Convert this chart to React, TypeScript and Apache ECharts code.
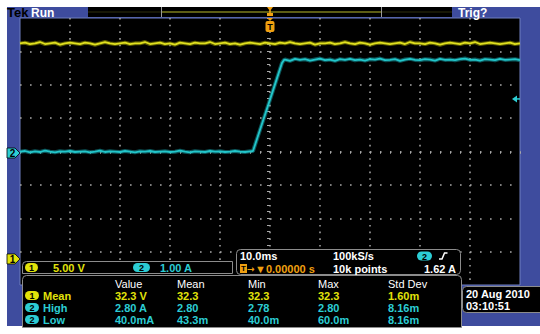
import React, { useEffect, useRef } from 'react';
import * as echarts from 'echarts';

// ---- acquisition settings ----
const timeMin = -50; // ms (10 ms/div, 10 div, trigger centred)
const timeMax = 50;
const timePerDiv = 10;
const sampleStepMs = 1;
const divMin = -4;
const divMax = 4;

const ch1VoltsPerDiv = 5.0;
const ch1GroundDiv = -3.22;
const ch2AmpsPerDiv = 1.0;
const ch2GroundDiv = -0.045;
const trigLevelAmps = 1.62;

// ---- channel 1 (yellow), volts, one sample per ms from -50 ms ----
const ch1Volts = [
  32.3, 32.4, 32.2, 32.3, 32.5, 32.2, 32.3, 32.4, 32.1, 32.3,
  32.4, 32.3, 32.2, 32.4, 32.3, 32.1, 32.3, 32.5, 32.3, 32.2,
  32.3, 32.4, 32.2, 32.3, 32.3, 32.5, 32.2, 32.3, 32.4, 32.2,
  32.3, 32.1, 32.4, 32.3, 32.2, 32.4, 32.3, 32.3, 32.5, 32.2,
  32.3, 32.4, 32.2, 32.3, 32.1, 32.3, 32.4, 32.3, 32.2, 32.4,
  32.3, 32.2, 32.4, 32.3, 32.5, 32.3, 32.2, 32.3, 32.4, 32.1,
  32.3, 32.3, 32.4, 32.2, 32.3, 32.5, 32.3, 32.2, 32.4, 32.3,
  32.1, 32.3, 32.4, 32.3, 32.2, 32.3, 32.4, 32.2, 32.5, 32.3,
  32.3, 32.2, 32.4, 32.3, 32.1, 32.3, 32.4, 32.3, 32.2, 32.4,
  32.3, 32.5, 32.2, 32.3, 32.4, 32.3, 32.2, 32.3, 32.4, 32.2,
  32.3,
];

// ---- channel 2 (cyan), amps ----
const ch2LowStartMs = -50;
const ch2LowAmps = [
  0.04, 0.06, 0.02, 0.05, 0.03, 0.07, 0.04, 0.02, 0.05, 0.04,
  0.06, 0.03, 0.04, 0.05, 0.02, 0.04, 0.07, 0.03, 0.05, 0.04,
  0.03, 0.06, 0.04, 0.02, 0.05, 0.04, 0.06, 0.03, 0.04, 0.05,
  0.03, 0.04, 0.07, 0.04, 0.02, 0.05, 0.04, 0.03, 0.06, 0.04,
  0.05, 0.03, 0.04, 0.06, 0.04, 0.03, 0.05,
];
const ch2RiseTimes = [-3.4, -3.0, 0.0, 2.4, 2.8];
const ch2RiseAmps = [0.06, 0.24, 1.6, 2.7, 2.79];
const ch2HighStartMs = 3;
const ch2HighAmps = [
  2.80, 2.76, 2.82, 2.79, 2.81, 2.77, 2.80, 2.83, 2.78, 2.80,
  2.76, 2.81, 2.79, 2.82, 2.78, 2.80, 2.77, 2.81, 2.80, 2.83,
  2.78, 2.79, 2.81, 2.76, 2.80, 2.82, 2.79, 2.78, 2.81, 2.80,
  2.77, 2.82, 2.79, 2.80, 2.78, 2.81, 2.83, 2.79, 2.80, 2.77,
  2.81, 2.80, 2.78, 2.82, 2.79, 2.80, 2.81, 2.78,
];

// ---- readout texts ----
const ch1ScaleLabel = '5.00 V';
const ch2ScaleLabel = '1.00 A';
const timebaseLabel = '10.0ms';
const sampleRateLabel = '100kS/s';
const triggerArrow = '→';
const triggerPosLabel = '▼0.00000 s';
const recordLabel = '10k points';
const trigLevelLabel = '1.62 A';
const measHeaders = ['Value', 'Mean', 'Min', 'Max', 'Std Dev'];
const measNames = ['Mean', 'High', 'Low'];
const measChannels = ['1', '2', '2'];
const measRows = [
  ['32.3 V', '32.3', '32.3', '32.3', '1.60m'],
  ['2.80 A', '2.80', '2.78', '2.80', '8.16m'],
  ['40.0mA', '43.3m', '40.0m', '60.0m', '8.16m'],
];
const dateLabel = '20 Aug 2010';
const timeLabel = '03:10:51';

const BLUE = '#3e4c9e';
const GRAT = '#a8a8a8';
const YEL = '#e2e20a';
const YEL_TRACE = '#e0e020';
const CYAN = '#2ccdd4';
const CYAN_TRACE = '#22c6ca';
const ORANGE = '#f0a010';
const FONT = '"Liberation Sans", Arial, sans-serif';
const DJV = '"DejaVu Sans", sans-serif';

function txt(x: number, y: number, text: string, fill: string, align = 'left', size = 11, weight = 'bold', family = FONT) {
  return {
    type: 'text', z: 120,
    style: { x, y, text, fill, font: `${weight} ${size}px ${family}`, align, verticalAlign: 'middle' },
  };
}

function pill(x: number, y: number, w: number, h: number, color: string, label: string) {
  return [
    { type: 'rect', z: 115, shape: { x, y, width: w, height: h, r: h / 2 }, style: { fill: color } },
    {
      type: 'text', z: 116,
      style: { x: x + w / 2, y: y + h / 2 + 0.5, text: label, fill: '#000', font: `bold 9px ${FONT}`, align: 'center', verticalAlign: 'middle' },
    },
  ];
}

function box(x: number, y: number, w: number, h: number, r: any) {
  return { type: 'rect', z: 100, shape: { x, y, width: w, height: h, r }, style: { fill: '#000', stroke: '#8c8c8c', lineWidth: 1 } };
}

function groundMarker(yc: number, color: string, label: string) {
  return [
    {
      type: 'polygon', z: 115,
      shape: { points: [[7, yc - 5], [15, yc - 5], [20, yc], [15, yc + 5], [7, yc + 5]] },
      style: { fill: color, stroke: '#000', lineWidth: 0.8 },
    },
    { type: 'text', z: 116, style: { x: 12.5, y: yc + 0.5, text: label, fill: '#000', font: `bold 10px ${FONT}`, align: 'center', verticalAlign: 'middle' } },
  ];
}

export default function App() {
  const ref = useRef<HTMLDivElement>(null);

  useEffect(() => {
    if (!ref.current) return;
    const chart = echarts.init(ref.current, undefined, { renderer: 'svg' });

    const ch1Data = ch1Volts.map((v, i) => [timeMin + i * sampleStepMs, v]);
    const ch2Data: number[][] = [];
    ch2LowAmps.forEach((v, i) => ch2Data.push([ch2LowStartMs + i * sampleStepMs, v]));
    ch2RiseTimes.forEach((t, i) => ch2Data.push([t, ch2RiseAmps[i]]));
    ch2HighAmps.forEach((v, i) => ch2Data.push([ch2HighStartMs + i * sampleStepMs, v]));

    const tickStyle = { color: GRAT, width: 1 };
    const option: any = {
      animation: false,
      backgroundColor: 'transparent',
      grid: { left: 20, top: 18, width: 500, height: 267, show: true, backgroundColor: '#000', borderColor: '#6f7fbf', borderWidth: 1 },
      xAxis: [
        {
          type: 'value', min: timeMin, max: timeMax, interval: timePerDiv,
          axisLine: { show: false, onZero: true, onZeroAxisIndex: 0 },
          axisTick: { show: true, inside: false, length: 2, lineStyle: tickStyle },
          minorTick: { show: true, splitNumber: 5, length: 2, lineStyle: tickStyle },
          axisLabel: { show: false },
          splitLine: { show: true, showMinLine: false, showMaxLine: false, lineStyle: { color: GRAT, width: 1.5, type: [1.6, 5.075] } },
        },
        {
          type: 'value', min: timeMin, max: timeMax, interval: timePerDiv,
          axisLine: { show: false, onZero: true, onZeroAxisIndex: 0 },
          axisTick: { show: true, inside: true, length: 2, lineStyle: tickStyle },
          minorTick: { show: true, splitNumber: 5, length: 2, lineStyle: tickStyle },
          axisLabel: { show: false },
          splitLine: { show: false },
        },
      ],
      yAxis: [
        {
          type: 'value', min: divMin, max: divMax, interval: 1,
          axisLine: { show: false, onZero: true, onZeroAxisIndex: 0 },
          axisTick: { show: true, inside: false, length: 3, lineStyle: tickStyle },
          minorTick: { show: true, splitNumber: 5, length: 3, lineStyle: tickStyle },
          axisLabel: { show: false },
          splitLine: { show: true, showMinLine: false, showMaxLine: false, lineStyle: { color: GRAT, width: 1.5, type: [1.6, 8.4] } },
        },
        {
          type: 'value', min: divMin, max: divMax, interval: 1,
          axisLine: { show: false, onZero: true, onZeroAxisIndex: 0 },
          axisTick: { show: true, inside: true, length: 3, lineStyle: tickStyle },
          minorTick: { show: true, splitNumber: 5, length: 3, lineStyle: tickStyle },
          axisLabel: { show: false },
          splitLine: { show: false },
        },
        {
          type: 'value', show: false,
          min: (divMin - ch1GroundDiv) * ch1VoltsPerDiv, max: (divMax - ch1GroundDiv) * ch1VoltsPerDiv,
          axisLine: { onZero: false }, splitLine: { show: false },
        },
        {
          type: 'value', show: false,
          min: (divMin - ch2GroundDiv) * ch2AmpsPerDiv, max: (divMax - ch2GroundDiv) * ch2AmpsPerDiv,
          axisLine: { onZero: false }, splitLine: { show: false },
        },
      ],
      series: [
        { type: 'line', xAxisIndex: 0, yAxisIndex: 2, data: ch1Data, symbol: 'none', silent: true, z: 4, lineStyle: { color: '#b0b000', width: 4, opacity: 0.5 } },
        { type: 'line', xAxisIndex: 0, yAxisIndex: 2, data: ch1Data, symbol: 'none', silent: true, z: 5, lineStyle: { color: YEL_TRACE, width: 1.8 } },
        { type: 'line', xAxisIndex: 0, yAxisIndex: 3, data: ch2Data, symbol: 'none', silent: true, z: 4, lineStyle: { color: '#18a8b0', width: 4, opacity: 0.5 } },
        { type: 'line', xAxisIndex: 0, yAxisIndex: 3, data: ch2Data, symbol: 'none', silent: true, z: 5, lineStyle: { color: CYAN_TRACE, width: 1.8 } },
      ],
    };
    chart.setOption(option);

    const yCh1Gnd = chart.convertToPixel({ yAxisIndex: 2 }, 0) as number;
    const yCh2Gnd = chart.convertToPixel({ yAxisIndex: 3 }, 0) as number;
    const yTrig = chart.convertToPixel({ yAxisIndex: 3 }, trigLevelAmps) as number;
    const xTrig = chart.convertToPixel({ xAxisIndex: 0 }, 0) as number;

    const colX = [115, 177, 248, 318, 388];
    const rowY = [295, 307, 319];
    const rowColor = [YEL, CYAN, CYAN];

    const g: any[] = [
      // top bar
      txt(7, 12.5, 'Tek', '#000', 'left', 13, 'bold'),
      txt(31, 12.5, 'Run', '#ffffff', 'left', 12, 'bold'),
      txt(458, 12.5, 'Trig?', '#ffffff', 'left', 12, 'bold'),
      { type: 'rect', z: 100, shape: { x: 88, y: 7, width: 364, height: 10 }, style: { fill: '#000' } },
      { type: 'line', z: 101, shape: { x1: 88, y1: 12, x2: 452, y2: 12 }, style: { stroke: '#2e2e0c', lineWidth: 1 } },
      { type: 'line', z: 102, shape: { x1: 162, y1: 12, x2: 381, y2: 12 }, style: { stroke: '#76761a', lineWidth: 1.5 } },
      { type: 'line', z: 103, shape: { x1: 161.5, y1: 7, x2: 161.5, y2: 17 }, style: { stroke: '#9a9a9a', lineWidth: 1 } },
      { type: 'line', z: 103, shape: { x1: 381.5, y1: 7, x2: 381.5, y2: 17 }, style: { stroke: '#9a9a9a', lineWidth: 1 } },
      // trigger position markers
      { type: 'polygon', z: 104, shape: { points: [[xTrig - 3, 7], [xTrig + 3, 7], [xTrig + 0.8, 10], [xTrig + 0.8, 13], [xTrig + 3, 13], [xTrig + 3, 16], [xTrig - 3, 16], [xTrig - 3, 13], [xTrig - 0.8, 13], [xTrig - 0.8, 10]] }, style: { fill: ORANGE } },
      { type: 'polygon', z: 110, shape: { points: [[xTrig - 3, 18], [xTrig + 3, 18], [xTrig, 21]] }, style: { fill: ORANGE } },
      { type: 'rect', z: 110, shape: { x: xTrig - 4.5, y: 21, width: 9, height: 11, r: 2 }, style: { fill: ORANGE } },
      { type: 'text', z: 111, style: { x: xTrig, y: 27, text: 'T', fill: '#000', font: `bold 9px ${FONT}`, align: 'center', verticalAlign: 'middle' } },
      // trigger level marker
      { type: 'polygon', z: 110, shape: { points: [[xTrig + 242, yTrig], [xTrig + 247, yTrig - 3.5], [xTrig + 247, yTrig + 3.5]] }, style: { fill: CYAN } },
      { type: 'line', z: 110, shape: { x1: xTrig + 246, y1: yTrig, x2: xTrig + 250, y2: yTrig }, style: { stroke: CYAN, lineWidth: 1.5 } },
      // ground markers
      ...groundMarker(yCh2Gnd, CYAN, '2'),
      ...groundMarker(yCh1Gnd, YEL, '1'),
      // vertical scale box
      box(22.5, 261.5, 210, 12, [4, 0, 0, 0]),
      ...pill(25, 263, 13, 9, YEL, '1'),
      txt(53, 267.5, ch1ScaleLabel, YEL),
      ...pill(133, 263, 17, 9, CYAN, '2'),
      txt(160, 267.5, ch2ScaleLabel, CYAN),
      // horizontal / trigger box
      box(236.5, 249.5, 224, 25, 4),
      txt(240, 256, timebaseLabel, '#ffffff'),
      txt(333, 256, sampleRateLabel, '#ffffff'),
      ...pill(417, 251.5, 15, 9, CYAN, '2'),
      { type: 'polyline', z: 120, shape: { points: [[439, 259], [442, 259], [444.5, 253], [447.5, 253]] }, style: { stroke: '#ffffff', lineWidth: 1.5, fill: 'none' } },
      { type: 'rect', z: 115, shape: { x: 240, y: 264, width: 7, height: 9 }, style: { fill: ORANGE } },
      { type: 'text', z: 116, style: { x: 243.5, y: 268.5, text: 'T', fill: '#000', font: `bold 8px ${FONT}`, align: 'center', verticalAlign: 'middle' } },
      txt(247, 268.5, triggerArrow, ORANGE, 'left', 9, 'bold', DJV),
      txt(255, 268.5, triggerPosLabel, ORANGE, 'left', 11, 'bold'),
      txt(333, 268.5, recordLabel, '#ffffff'),
      txt(456, 268.5, trigLevelLabel, '#ffffff', 'right'),
      // measurement table
      box(22.5, 275.5, 439, 52, [4, 4, 0, 0]),
      ...measHeaders.map((h, i) => txt(colX[i], 283.5, h, '#ffffff', 'left', 11, 'normal')),
      // date box
      box(462.5, 286.5, 80, 26, [4, 0, 0, 4]),
      txt(466, 293.5, dateLabel, '#ffffff'),
      txt(466, 305.5, timeLabel, '#ffffff'),
    ];
    measNames.forEach((name, r) => {
      g.push(...pill(25, rowY[r] - 4, 14, 9, rowColor[r], measChannels[r]));
      g.push(txt(43, rowY[r] + 0.5, name, rowColor[r]));
      measRows[r].forEach((v, c) => g.push(txt(colX[c], rowY[r] + 0.5, v, rowColor[r])));
    });

    chart.setOption({ graphic: { elements: g } });

    return () => chart.dispose();
  }, []);

  return (
    <div style={{ position: 'absolute', left: 0, top: 0, width: 540, height: 334, background: '#fff', overflow: 'hidden' }}>
      <div style={{ position: 'absolute', left: 7, top: 7, width: 533, height: 319, background: BLUE }} />
      <div ref={ref} style={{ position: 'absolute', left: 0, top: 0, width: 540, height: 334 }} />
    </div>
  );
}
